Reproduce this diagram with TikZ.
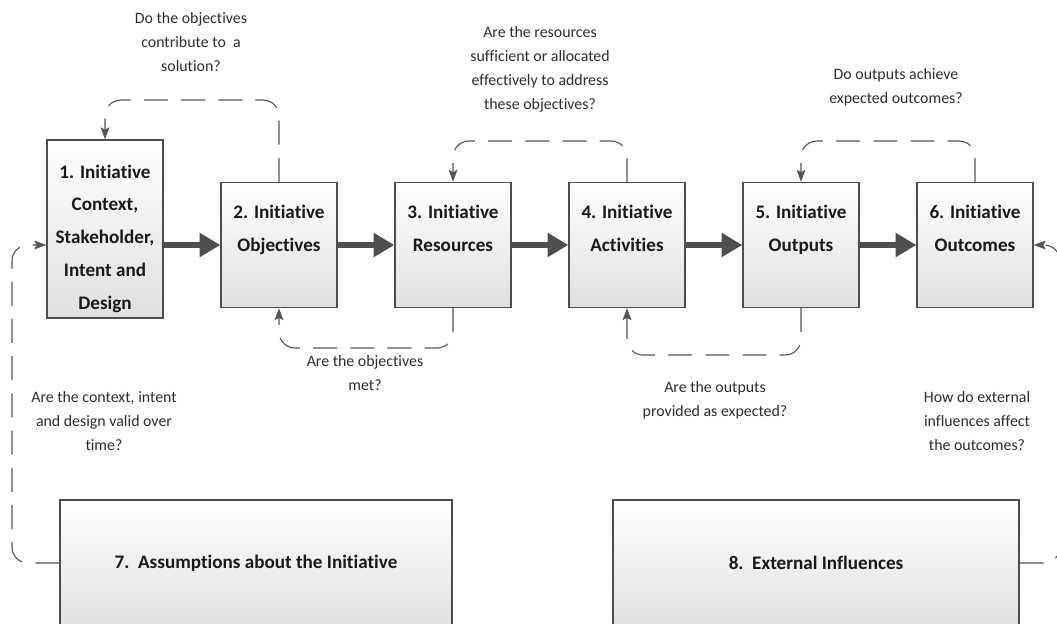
\documentclass[tikz,border=0pt]{standalone}
\usepackage{fontspec}
\setmainfont{Carlito}[Ligatures=NoCommon]
\usetikzlibrary{arrows.meta}
\definecolor{boxline}{HTML}{4D4D4D}
\definecolor{boxbot}{HTML}{E0E0E0}
\definecolor{flowgray}{HTML}{4F4F4F}
\definecolor{fbgray}{HTML}{555555}
\definecolor{qtext}{HTML}{2D2D2D}
\begin{document}
\begin{tikzpicture}[
    stage/.style={draw=boxline, line width=1pt, top color=white, bottom color=boxbot,
      minimum width=2.9cm, minimum height=3.125cm, inner sep=0pt, align=center,
      text=black!90, font=\fontsize{13.6}{23.4}\selectfont\bfseries},
    flow/.style={draw=flowgray, line width=4.5pt, -{Triangle[length=0.52cm,width=0.58cm]}},
    fb/.style={draw=fbgray, line width=0.8pt, dash pattern=on 0.6cm off 0.33cm,
      rounded corners=0.4cm, -{Stealth[length=0.3cm,width=0.22cm,inset=0.06cm]}},
    question/.style={align=center, text=qtext, font=\fontsize{11.3}{17}\selectfont}
  ]
  \useasboundingbox (0,0) rectangle (26.425,15.575);

  % stages of the initiative
  \node[stage, minimum height=4.45cm] (b1) at (2.625,9.85)
    {\mbox{}\\1. Initiative\\Context,\\Stakeholder,\\Intent and\\Design};
  \node[stage] (b2) at (6.975,9.45) {2. Initiative\\Objectives\\\mbox{}};
  \node[stage] (b3) at (11.325,9.45) {3. Initiative\\Resources\\\mbox{}};
  \node[stage] (b4) at (15.675,9.45) {4. Initiative\\Activities\\\mbox{}};
  \node[stage] (b5) at (20.025,9.45) {5. Initiative\\Outputs\\\mbox{}};
  \node[stage] (b6) at (24.375,9.45) {6. Initiative\\Outcomes\\\mbox{}};
  \node[stage, minimum width=9.8cm, minimum height=3.15cm] (b7) at (6.4,1.5)
    {7.\ \ Assumptions about the Initiative};
  \node[stage, minimum width=10.15cm, minimum height=3.15cm] (b8) at (20.4,1.5)
    {8.\ \ External Influences};

  % main flow
  \draw[flow] (b1.east |- b2.west) -- (b2.west);
  \draw[flow] (b2) -- (b3);
  \draw[flow] (b3) -- (b4);
  \draw[flow] (b4) -- (b5);
  \draw[flow] (b5) -- (b6);

  % feedback loops
  \draw[fb] (b2.north) -- (b2.north |- 0,13.075) -| (b1.north);
  \draw[fb] (b3.south) -- (b3.south |- 0,6.875) -| (b2.south);
  \draw[fb] (b4.north) -- (b4.north |- 0,12.05) -| (b3.north);
  \draw[fb] (b5.south) -- (b5.south |- 0,6.7) -| (b4.south);
  \draw[fb] (b6.north) -- (b6.north |- 0,12.05) -| (b5.north);
  \draw[fb] (b7.west) -| (0.3,9.45) -- (b1.west |- b2.west);
  \draw[fb] (b8.east) -| (26.5,9.45) -- (b6.east);

  % questions
  \node[question] (q1) at (4.775,14.525) {Do the objectives\\contribute to\ \ a\\solution?};
  \node[question] (q2) at (9.125,6.24) {Are the objectives\\met?};
  \node[question] (q3) at (13.5,13.85) {Are the resources\\sufficient or allocated\\effectively to address\\these objectives?};
  \node[question] (q4) at (17.875,5.575) {Are the outputs\\provided as expected?};
  \node[question] (q5) at (22.4,13.4) {Do outputs achieve\\expected outcomes?};
  \node[question] (q6) at (2.6,5.05) {Are the context, intent\\and design valid over\\time?};
  \node[question] (q7) at (24.425,5.05) {How do external\\influences affect\\the outcomes?};
\end{tikzpicture}
\end{document}
